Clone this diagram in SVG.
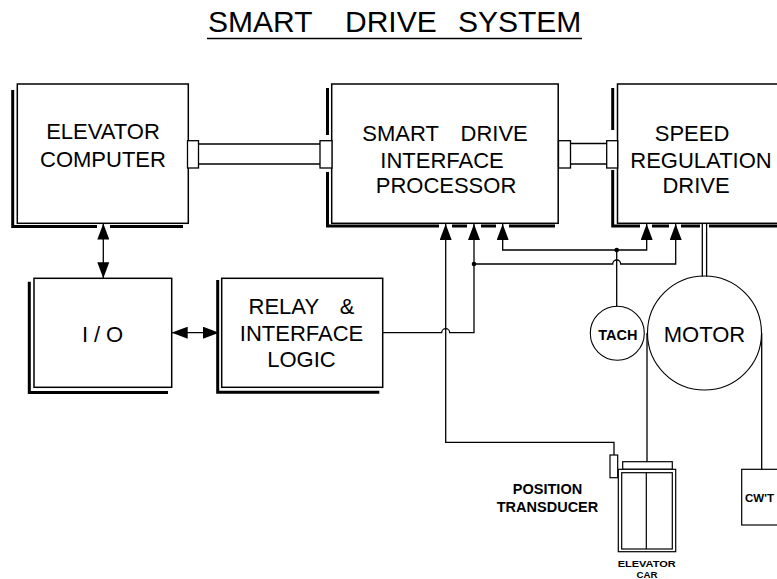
<svg xmlns="http://www.w3.org/2000/svg" width="777" height="579" viewBox="0 0 777 579">
<style>
text{font-family:"Liberation Sans",Arial,sans-serif;fill:#000}
.lbl{font-size:22px;text-anchor:middle}
.box{fill:#fff;stroke:#000;stroke-width:1.5}
.sh{fill:none;stroke:#000;stroke-width:3}
.ln{fill:none;stroke:#000;stroke-width:1.3}
.thin{fill:none;stroke:#000;stroke-width:1.1}
</style>
<defs>
<marker id="ah" markerUnits="userSpaceOnUse" markerWidth="16" markerHeight="12" viewBox="0 0 16 12" refX="16" refY="6" orient="auto-start-reverse">
<path d="M0,0 L16,6 L0,12 z" fill="#000"/>
</marker>
</defs>
<rect width="777" height="579" fill="#fff"/>

<g id="title">
<text x="208" y="31.7" font-size="30"><tspan x="208">SMART</tspan><tspan x="345">DRIVE</tspan><tspan x="458">SYSTEM</tspan></text>
<line x1="207" y1="38.5" x2="582" y2="38.5" stroke="#000" stroke-width="1.5"/>
</g>

<g id="elevator-computer">
<path class="sh" d="M12.7,90 V226.5 H97 M110,226.5 H183"/>
<rect class="box" x="17.3" y="84" width="171" height="139.3"/>
<text class="lbl" x="103" y="139.3">ELEVATOR</text>
<text class="lbl" x="103" y="166.7">COMPUTER</text>
</g>

<g id="smart-drive-interface-processor">
<path class="sh" d="M327.5,88 V135 M327.5,172 V226 H439 M452,226 H467 M481,226 H496 M509,226 H555"/>
<rect class="box" x="331.7" y="84" width="226.5" height="139.3"/>
<text class="lbl" x="445" y="141" word-spacing="16">SMART DRIVE</text>
<text class="lbl" x="442" y="167.7">INTERFACE</text>
<text class="lbl" x="446" y="193.3">PROCESSOR</text>
</g>

<g id="speed-regulation-drive">
<path class="sh" d="M612.7,88 V130 M612.7,170 V226 H640 M652,226 H669 M681,226 H700 M709,226 H790"/>
<rect class="box" x="617.5" y="84" width="200" height="139.3"/>
<text class="lbl" x="692" y="141">SPEED</text>
<text class="lbl" x="701" y="167.7">REGULATION</text>
<text class="lbl" x="696" y="193.3">DRIVE</text>
</g>

<g id="io">
<path class="sh" d="M29.3,281.7 V392.5 H168"/>
<rect class="box" x="34" y="278.3" width="137.7" height="109"/>
<text class="lbl" x="102.5" y="341.7" textLength="41" lengthAdjust="spacing">I/O</text>
</g>

<g id="relay-interface-logic">
<path class="sh" d="M217.7,280 V392.3 H379.3"/>
<rect class="box" x="221.7" y="278.3" width="161" height="109"/>
<text class="lbl" x="301.5" y="314" word-spacing="15">RELAY &amp;</text>
<text class="lbl" x="301.5" y="340.7">INTERFACE</text>
<text class="lbl" x="301.5" y="367.3">LOGIC</text>
</g>

<g id="tach">
<circle class="thin" cx="617.3" cy="333.3" r="27" fill="#fff"/>
<text x="617.8" y="339.5" font-size="14.5" font-weight="bold" text-anchor="middle">TACH</text>
</g>

<g id="motor">
<circle class="thin" cx="704.5" cy="333" r="57" fill="#fff"/>
<text class="lbl" x="704.5" y="341.7">MOTOR</text>
</g>

<g id="position-transducer">
<rect x="610" y="455" width="7.7" height="22.7" fill="#fff" stroke="#000" stroke-width="1.2"/>
<text x="547.5" y="494" font-size="14.5" font-weight="bold" text-anchor="middle">POSITION</text>
<text x="547.5" y="511.7" font-size="14.5" font-weight="bold" text-anchor="middle">TRANSDUCER</text>
</g>

<g id="elevator-car">
<rect x="622.7" y="461.7" width="49.6" height="7.6" fill="#fff" stroke="#000" stroke-width="1.2"/>
<rect x="618.3" y="469.3" width="57.4" height="82.4" fill="#fff" stroke="#000" stroke-width="1.2"/>
<rect x="621.7" y="472.7" width="50.6" height="76.3" fill="none" stroke="#000" stroke-width="1.2"/>
<line x1="646.3" y1="472.7" x2="646.3" y2="549" stroke="#000" stroke-width="1.2"/>
<text x="646.7" y="566.7" font-size="9" font-weight="bold" text-anchor="middle" textLength="58" lengthAdjust="spacingAndGlyphs">ELEVATOR</text>
<text x="647" y="577.5" font-size="9" font-weight="bold" text-anchor="middle" textLength="21" lengthAdjust="spacingAndGlyphs">CAR</text>
</g>

<g id="counterweight">
<rect x="741.7" y="469.3" width="50" height="55.7" fill="#fff" stroke="#000" stroke-width="1.2"/>
<text x="745" y="501.7" font-size="11.5" font-weight="bold">CW'T</text>
</g>

<g id="connectors">
<rect x="187.5" y="140.7" width="11" height="27.3" fill="#fff" stroke="#000" stroke-width="1.3"/>
<line class="ln" x1="198.5" y1="144" x2="320" y2="144"/>
<line class="ln" x1="198.5" y1="164" x2="320" y2="164"/>
<rect x="320" y="140.7" width="12" height="27.3" fill="#fff" stroke="#000" stroke-width="1.3"/>
<rect x="558.5" y="140.7" width="12" height="27.3" fill="#fff" stroke="#000" stroke-width="1.3"/>
<line class="ln" x1="570.5" y1="143.5" x2="606.7" y2="143.5"/>
<line class="ln" x1="570.5" y1="164" x2="606.7" y2="164"/>
<rect x="606.7" y="140.7" width="11" height="27.3" fill="#fff" stroke="#000" stroke-width="1.3"/>
<line class="ln" x1="103.3" y1="223.5" x2="103.3" y2="278.3" marker-start="url(#ah)" marker-end="url(#ah)"/>
<line class="ln" x1="171.7" y1="332.7" x2="219" y2="332.7" marker-start="url(#ah)" marker-end="url(#ah)"/>
<path class="ln" d="M382.7,332.7 H441.7 A4,4 0 0 1 449.7,332.7 H474 V224" marker-end="url(#ah)"/>
<path class="ln" d="M614,455 V442.3 H445.7 V224" marker-end="url(#ah)"/>
<path class="ln" d="M474,264 H612.7 A4,4 0 0 1 620.7,264 H675.7 V224" marker-end="url(#ah)"/>
<path class="ln" d="M502.7,224 V250 H646.7 V224" marker-start="url(#ah)" marker-end="url(#ah)"/>
<line class="ln" x1="616.7" y1="250" x2="616.7" y2="306.3"/>
<circle cx="616.7" cy="250" r="2.3" fill="#000"/>
<circle cx="474" cy="264" r="2.3" fill="#000"/>
<line class="ln" x1="702.3" y1="223.3" x2="702.3" y2="276.5"/>
<line class="ln" x1="706.6" y1="223.3" x2="706.6" y2="276.5"/>
<line class="ln" x1="647" y1="333" x2="647" y2="461.7"/>
<line class="ln" x1="761.7" y1="333" x2="761.7" y2="469.3"/>
</g>
</svg>
